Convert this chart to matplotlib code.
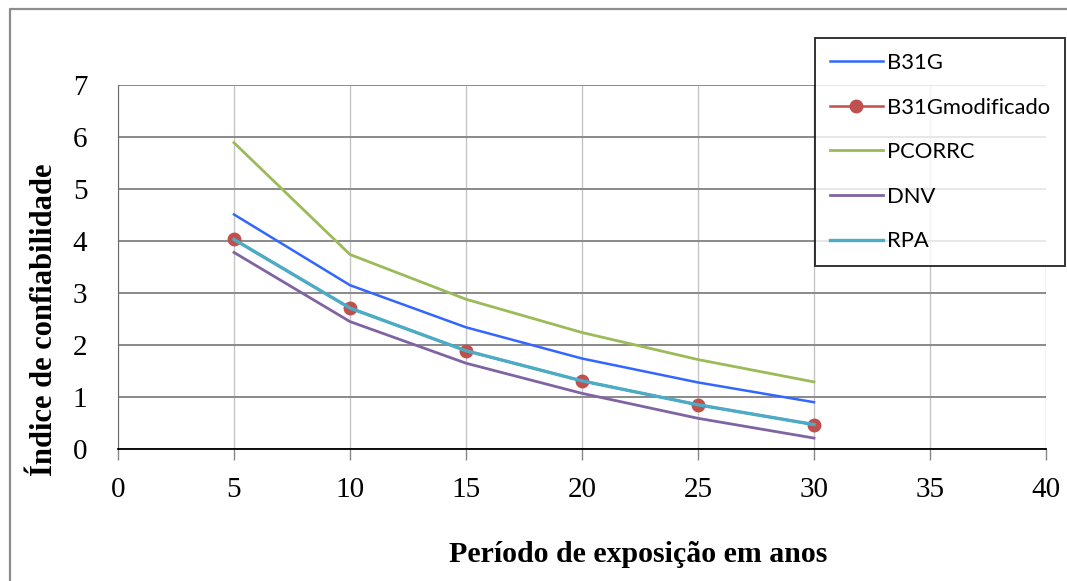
import matplotlib
matplotlib.use('Agg')
import matplotlib.pyplot as plt
from matplotlib.lines import Line2D

anos = [5, 10, 15, 20, 25, 30]
b31g = [4.51, 3.15, 2.34, 1.74, 1.28, 0.90]
b31g_mod = [4.03, 2.71, 1.89, 1.31, 0.85, 0.47]
pcorrc = [5.89, 3.74, 2.88, 2.24, 1.72, 1.29]
dnv = [3.78, 2.45, 1.65, 1.07, 0.59, 0.21]
rpa = [4.03, 2.71, 1.89, 1.31, 0.85, 0.47]

x_ticks = [0, 5, 10, 15, 20, 25, 30, 35, 40]
y_ticks = [0, 1, 2, 3, 4, 5, 6, 7]

W, H = 1067, 581
fig = plt.figure(figsize=(W / 100, H / 100), dpi=100)

# moldura externa cinza (so topo e lado esquerdo aparecem)
fig.lines.append(Line2D([9.5 / W, 9.5 / W, 1.0], [0.0, 1 - 9 / H, 1 - 9 / H],
                        transform=fig.transFigure, color='#8c8c8c', linewidth=1.6))

ax = fig.add_axes([118 / W, (H - 449) / H, 928 / W, 364 / H])

ax.plot(anos, b31g, color='#3366FF', linewidth=1.8, label='B31G')
ax.plot(anos, b31g_mod, color='#C0504D', linewidth=1.8, marker='o',
        markersize=9, label='B31Gmodificado')
ax.plot(anos, pcorrc, color='#9BBB59', linewidth=2.0, label='PCORRC')
ax.plot(anos, dnv, color='#8064A2', linewidth=2.0, label='DNV')
ax.plot(anos, rpa, color='#4BACC6', linewidth=2.4, label='RPA')

ax.set_xlim(0, 40)
ax.set_ylim(0, 7)
ax.set_xticks(x_ticks)
ax.set_yticks(y_ticks)

ax.yaxis.grid(True, color='#8a8a8a', linewidth=1.4)
ax.xaxis.grid(True, color='#c4c4c4', linewidth=1.0)
ax.set_axisbelow(True)

for s in ['top', 'right']:
    ax.spines[s].set_visible(False)
ax.spines['left'].set_color('#6a6a6a')
ax.spines['bottom'].set_color('black')
ax.spines['bottom'].set_linewidth(1.3)

ax.tick_params(axis='x', direction='out', length=8, width=1, colors='#888888',
               labelcolor='black', pad=12, labelsize=21)
ax.tick_params(axis='y', length=0, pad=22, labelsize=21)
for lab in ax.get_xticklabels() + ax.get_yticklabels():
    lab.set_fontfamily('Liberation Serif')

fig.text(45 / W, 1 - 320 / H, 'Índice de confiabilidade', rotation=90,
         ha='center', va='center', fontsize=22, fontweight='bold',
         family='Liberation Serif')
fig.text(638 / W, 1 - 555 / H, 'Período de exposição em anos',
         ha='center', va='center', fontsize=21.5, fontweight='bold',
         family='Liberation Serif')

leg = fig.legend(loc='upper left', bbox_to_anchor=(815 / W, 1 - 38 / H),
                 borderaxespad=0, fancybox=False, frameon=True,
                 prop={'family': 'Lato', 'size': 15.8},
                 labelspacing=1.12, handlelength=2.4, handletextpad=0.2,
                 borderpad=0.68)
leg.get_frame().set_edgecolor('black')
leg.get_frame().set_linewidth(1.4)

fig.savefig('out.png', dpi=100, facecolor='white')
